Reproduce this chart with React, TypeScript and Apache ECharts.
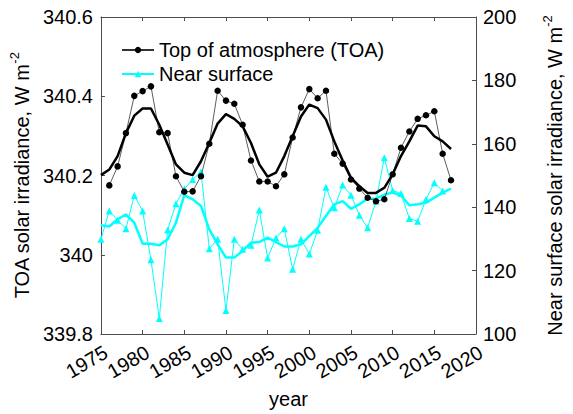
import React, { useEffect, useRef } from "react";
import * as echarts from "echarts";

const toaYears = [1976, 1977, 1978, 1979, 1980, 1981, 1982, 1983, 1984, 1985, 1986, 1987, 1988, 1989, 1990, 1991, 1992, 1993, 1994, 1995, 1996, 1997, 1998, 1999, 2000, 2001, 2002, 2003, 2004, 2005, 2006, 2007, 2008, 2009, 2010, 2011, 2012, 2013, 2014, 2015, 2016, 2017];
const toaValues = [340.175, 340.223, 340.307, 340.401, 340.413, 340.425, 340.309, 340.307, 340.198, 340.159, 340.160, 340.198, 340.280, 340.414, 340.389, 340.381, 340.328, 340.238, 340.185, 340.185, 340.173, 340.203, 340.296, 340.372, 340.418, 340.395, 340.414, 340.255, 340.230, 340.190, 340.167, 340.144, 340.135, 340.140, 340.203, 340.270, 340.311, 340.343, 340.352, 340.362, 340.255, 340.188];

const smoothYears = [1975, 1976, 1977, 1978, 1979, 1980, 1981, 1982, 1983, 1984, 1985, 1986, 1987, 1988, 1989, 1990, 1991, 1992, 1993, 1994, 1995, 1996, 1997, 1998, 1999, 2000, 2001, 2002, 2003, 2004, 2005, 2006, 2007, 2008, 2009, 2010, 2011, 2012, 2013, 2014, 2015, 2016, 2017];
const toaSmooth = [340.201, 340.215, 340.249, 340.307, 340.351, 340.369, 340.369, 340.328, 340.278, 340.228, 340.207, 340.201, 340.236, 340.282, 340.331, 340.355, 340.343, 340.324, 340.282, 340.228, 340.197, 340.207, 340.249, 340.299, 340.349, 340.379, 340.370, 340.341, 340.286, 340.238, 340.194, 340.173, 340.156, 340.156, 340.169, 340.203, 340.249, 340.286, 340.326, 340.324, 340.299, 340.286, 340.267];

const nsYears = [1975, 1976, 1977, 1978, 1979, 1980, 1981, 1982, 1983, 1984, 1985, 1986, 1987, 1988, 1989, 1990, 1991, 1992, 1993, 1994, 1995, 1996, 1997, 1998, 1999, 2000, 2001, 2002, 2003, 2004, 2005, 2006, 2007, 2008, 2009, 2010, 2011, 2012, 2013, 2014, 2015, 2016];
const nsValues = [129.9, 138.8, 135.9, 133.2, 143.7, 138.8, 123.4, 104.9, 132.8, 141.1, 145.8, 148.7, 151.2, 126.9, 129.9, 107.4, 129.9, 126.7, 128.0, 139.1, 124.0, 130.3, 133.2, 120.4, 129.9, 125.2, 132.7, 146.3, 139.8, 147.0, 143.8, 137.5, 133.5, 141.9, 155.6, 145.3, 144.3, 136.4, 135.6, 142.5, 147.7, 145.1];
const nsSmooth = [134.3, 133.9, 136.2, 137.7, 135.1, 128.5, 128.5, 128.0, 129.9, 135.1, 143.8, 142.5, 140.4, 133.0, 128.3, 124.1, 124.1, 126.2, 128.8, 129.0, 130.4, 129.0, 127.6, 127.6, 128.3, 130.9, 133.5, 137.2, 140.9, 141.9, 139.5, 140.9, 142.7, 142.7, 144.0, 144.6, 143.7, 140.6, 140.9, 141.4, 143.0, 144.6, 145.9];

const seriesNames = ["Top of atmosphere (TOA)", "Near surface"];
const xLabel = "year";
const leftLabel = "TOA solar irradiance, W m";
const rightLabel = "Near surface solar irradiance, W m";
const unitSup = "-2";

const pairs = (xs: number[], ys: number[]) => xs.map((x, i) => [x, ys[i]]);

const FONT = "Liberation Sans, Arial, Helvetica, sans-serif";
const AXIS_COLOR = "#4d4d4d";

export default function App() {
  const ref = useRef<HTMLDivElement>(null);
  useEffect(() => {
    if (!ref.current) return;
    const chart = echarts.init(ref.current, undefined, { renderer: "svg" });
    const axisLine = { show: true, onZero: false, lineStyle: { color: AXIS_COLOR, width: 1 } };
    const tick = { show: true, inside: true, length: 4, lineStyle: { color: AXIS_COLOR, width: 1 } };
    const labelStyle = { color: "#000", fontSize: 20, fontFamily: FONT };
    const nameRich = {
      m: { fontSize: 20, fontFamily: FONT, color: "#000", lineHeight: 24, verticalAlign: "bottom" as const },
      s: { fontSize: 13, fontFamily: FONT, color: "#000", lineHeight: 24, verticalAlign: "top" as const, padding: [0, 0, 8, 0] },
    };
    chart.setOption({
      animation: false,
      backgroundColor: "#fff",
      textStyle: { fontFamily: FONT },
      grid: { left: 98, right: 72, top: 17, bottom: 79, containLabel: false },
      legend: {
        data: seriesNames,
        orient: "vertical",
        left: 116,
        top: 35,
        itemWidth: 32,
        itemHeight: 8,
        itemGap: 4,
        textStyle: { fontSize: 20, fontFamily: FONT, color: "#000" },
      },
      xAxis: [
        {
          type: "value",
          min: 1975,
          max: 2020,
          interval: 5,
          position: "bottom",
          axisLine,
          axisTick: tick,
          splitLine: { show: false },
          axisLabel: {
            ...labelStyle,
            rotate: 30,
            margin: 8,
            verticalAlign: "top",
            formatter: (v: number) => String(v),
          },
          name: xLabel,
          nameLocation: "middle",
          nameGap: 55,
          nameTextStyle: { fontSize: 20, fontFamily: FONT, color: "#000" },
        },
        {
          type: "value",
          min: 1975,
          max: 2020,
          interval: 5,
          position: "top",
          axisLine,
          axisTick: tick,
          splitLine: { show: false },
          axisLabel: { show: false },
        },
      ],
      yAxis: [
        {
          type: "value",
          min: 339.8,
          max: 340.6,
          interval: 0.2,
          position: "left",
          axisLine,
          axisTick: tick,
          splitLine: { show: false },
          axisLabel: { ...labelStyle, margin: 8 },
          name: `{m|${leftLabel}}{s|${unitSup}}`,
          nameLocation: "middle",
          nameGap: 63,
          nameTextStyle: { rich: nameRich },
        },
        {
          type: "value",
          min: 100,
          max: 200,
          interval: 20,
          position: "right",
          axisLine,
          axisTick: tick,
          splitLine: { show: false },
          axisLabel: { ...labelStyle, margin: 7 },
          name: `{m|${rightLabel}}{s|${unitSup}}`,
          nameLocation: "middle",
          nameGap: 65,
          nameTextStyle: { rich: nameRich },
        },
      ],
      series: [
        {
          name: seriesNames[1],
          type: "line",
          xAxisIndex: 0,
          yAxisIndex: 1,
          data: pairs(nsYears, nsValues),
          symbol: "triangle",
          symbolSize: 7,
          showSymbol: true,
          itemStyle: { color: "#00ffff" },
          lineStyle: { color: "#00ffff", width: 1 },
          z: 2,
        },
        {
          name: "ns-smooth",
          type: "line",
          xAxisIndex: 0,
          yAxisIndex: 1,
          data: pairs(smoothYears, nsSmooth),
          symbol: "none",
          lineStyle: { color: "#00ffff", width: 2.5 },
          z: 3,
        },
        {
          name: seriesNames[0],
          type: "line",
          xAxisIndex: 0,
          yAxisIndex: 0,
          data: pairs(toaYears, toaValues),
          symbol: "circle",
          symbolSize: 6.5,
          itemStyle: { color: "#000" },
          lineStyle: { color: "#333", width: 0.8 },
          z: 4,
        },
        {
          name: "toa-smooth",
          type: "line",
          xAxisIndex: 0,
          yAxisIndex: 0,
          data: pairs(smoothYears, toaSmooth),
          symbol: "none",
          lineStyle: { color: "#000", width: 2.5 },
          z: 5,
        },
      ],
    });
    return () => chart.dispose();
  }, []);
  return (
    <div
      ref={ref}
      style={{ position: "fixed", left: 0, top: 0, width: 573, height: 414, background: "#fff" }}
    />
  );
}
